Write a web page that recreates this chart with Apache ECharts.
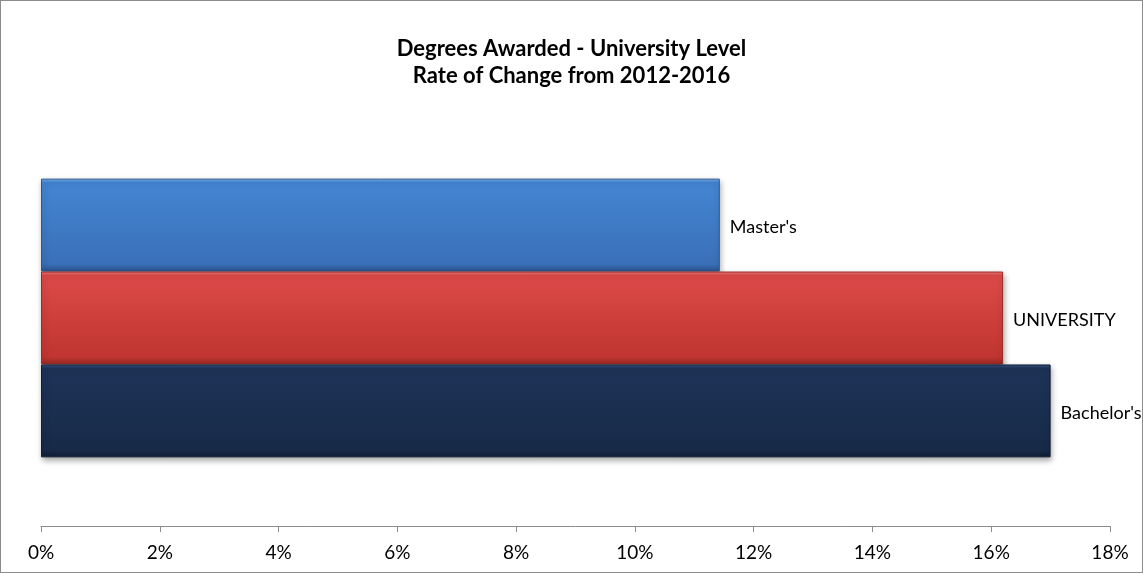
<!DOCTYPE html>
<html>
<head>
<meta charset="utf-8">
<script src="https://cdn.jsdelivr.net/npm/echarts@6/dist/echarts.min.js"></script>
<style>
html,body{margin:0;padding:0;background:#fff;}
#c{width:1143px;height:573px;box-sizing:border-box;border:1px solid #8c8c8c;}
</style>
</head>
<body>
<div id="c"></div>
<script>
// Data (first series drawn at the top)
const seriesNames = ["Master's", "UNIVERSITY", "Bachelor's"];
const seriesValues = [11.43, 16.2, 17.0];
const xTicks = [0, 2, 4, 6, 8, 10, 12, 14, 16, 18];
const titleLines = ["Degrees Awarded - University Level", "Rate of Change from 2012-2016"];

const palettes = [
  {edge: '#7fb3ee', top: '#4485d3', bottom: '#3a70b8', border: '#2c5690'},
  {edge: '#f08080', top: '#dc4a48', bottom: '#c0352f', border: '#9a2a26'},
  {edge: '#3b5a8a', top: '#1e3358', bottom: '#172a48', border: '#101d33'}
];

function grad(p){
  return new echarts.graphic.LinearGradient(0,0,0,1,[
    {offset:0, color:p.edge},
    {offset:0.04, color:p.top},
    {offset:0.92, color:p.bottom},
    {offset:1, color:p.border}
  ]);
}

const FONT = 'Lato, "Open Sans", sans-serif';
const chart = echarts.init(document.getElementById('c'), null, {renderer:'canvas'});
const series = seriesNames.map((name, i) => ({
  name: name,
  type: 'bar',
  data: [seriesValues[i]],
  barGap: '0%',
  barCategoryGap: '33%',
  itemStyle: {
    color: grad(palettes[i]),
    borderColor: palettes[i].border,
    borderWidth: 1,
    shadowColor: 'rgba(0,0,0,0.35)',
    shadowBlur: 6,
    shadowOffsetX: 1,
    shadowOffsetY: 3
  },
  label: {
    show: true,
    position: 'right',
    distance: 10,
    formatter: name,
    color: '#000',
    fontFamily: FONT,
    fontSize: 18,
    offset: [0, 2]
  }
}));

chart.setOption({
  animation: false,
  title: {
    text: titleLines.join('\n'),
    left: 'center',
    top: 29,
    textStyle: {
      fontFamily: FONT,
      fontWeight: 'bold',
      fontSize: 22,
      lineHeight: 27,
      color: '#000'
    }
  },
  grid: {left: 40, right: 32, top: 109, bottom: 46, containLabel: false},
  xAxis: {
    type: 'value',
    min: xTicks[0],
    max: xTicks[xTicks.length-1],
    interval: 2,
    axisLine: {show: true, lineStyle: {color: '#8c8c8c', width: 1}},
    axisTick: {show: true, length: 6, lineStyle: {color: '#8c8c8c'}},
    splitLine: {show: false},
    axisLabel: {
      formatter: v => v + '%',
      color: '#000',
      fontFamily: FONT,
      fontSize: 19,
      margin: 17
    }
  },
  yAxis: {
    type: 'category',
    data: [''],
    axisLine: {show: false},
    axisTick: {show: false},
    axisLabel: {show: false}
  },
  series: series
});
</script>
</body>
</html>
